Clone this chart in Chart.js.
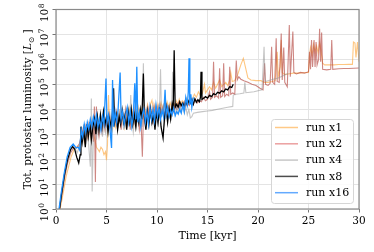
<!DOCTYPE html>
<html>
<head>
<meta charset="utf-8">
<script src="https://cdn.jsdelivr.net/npm/chart.js@4.4.1/dist/chart.umd.min.js"></script>
<style>
  html, body { margin: 0; padding: 0; background: #fff; }
  #grafico { display: block; }
</style>
</head>
<body>
<canvas id="grafico" width="374" height="252"></canvas>
<script>
// Pares [tempo (kyr), luminosidade (L_sun)]
const run1 = [[0.4,1],[0.6,2.5],[1.0,20],[1.5,125],[1.8,250],[2.1,300],[2.35,350],[2.5,600],[2.65,1200],[2.8,500],[2.95,1500],[3.1,700],[3.25,2000],[3.4,800],[3.55,2500],[3.7,1000],[3.85,600],[4.0,300],[4.15,250],[4.3,200],[4.45,300],[4.6,250],[4.75,150],[4.9,200],[5.0,90],[5.1,400],[5.2,3.7e4],[5.3,2000],[5.45,4000],[5.6,1500],[5.75,5000],[5.9,2000],[6.05,6000],[6.2,2500],[6.35,8000],[6.5,3000],[6.65,6000],[6.8,2000],[6.95,8000],[7.1,3000],[7.25,1e4],[7.4,3000],[7.55,8000],[7.7,2500],[7.85,1e4],[8.0,4000],[8.15,1.2e4],[8.3,5000],[8.45,1e4],[8.6,3500],[8.75,1.2e4],[8.9,5000],[9.05,1.5e4],[9.2,6000],[9.35,1.6e4],[9.5,2.3e4],[9.65,8000],[9.8,1.5e4],[9.95,7000],[10.1,1.6e4],[10.25,9000],[10.4,1.8e4],[10.55,1e4],[10.7,1.6e4],[10.85,9000],[11.0,2e4],[11.15,1.2e4],[11.3,1.8e4],[11.45,1.1e4],[11.6,2e4],[11.75,1.4e4],[11.9,2.2e4],[12.05,1.5e4],[12.2,2.5e4],[12.35,1.6e4],[12.5,2.2e4],[12.7,1.8e4],[12.9,2.8e4],[13.1,2e4],[13.3,3e4],[13.5,2.5e4],[13.7,4e4],[13.9,3e4],[14.1,5e4],[14.3,3.5e4],[14.5,4.5e4],[14.7,1e5],[14.8,4.5e4],[15.0,6e4],[15.2,8e4],[15.4,6e4],[15.6,1.2e5],[15.8,7e4],[16.0,1e5],[16.2,1.5e5],[16.4,8e4],[16.6,1e5],[16.8,1.2e5],[17.0,9e4],[17.2,1.5e5],[17.3,3e5],[17.45,1.3e5],[17.7,1.4e5],[18.0,2.5e5],[18.3,6e5],[18.55,1.1e6],[18.75,5e5],[19.0,1.8e5],[19.3,1.5e5],[19.8,1.4e5],[20.3,1.4e5],[20.6,1.2e5],[21.0,1.2e5],[21.4,1.3e5],[21.7,1.4e5],[21.9,2e6],[22.0,2e5],[22.2,5e5],[22.3,6e6],[22.4,3e5],[22.6,2.5e5],[23.0,2.6e5],[23.5,2.8e5],[24.0,2.8e5],[24.5,2.9e5],[25.0,3e5],[25.1,1.5e6],[25.2,3e6],[25.35,1.5e6],[25.5,4e6],[25.65,2e6],[25.8,3.5e6],[25.95,1.8e6],[26.1,4.5e6],[26.25,2e6],[26.4,7e5],[26.6,6e5],[27.0,6e5],[27.5,6e5],[28.0,6.2e5],[28.5,6.2e5],[29.0,6.3e5],[29.35,6.3e5],[29.45,5e6],[29.6,4.5e6],[29.7,1.2e6],[29.85,5e6],[30.0,8e5]];

const run2 = [[0.35,1],[0.55,3],[0.85,18],[1.15,70],[1.45,180],[1.75,280],[2.05,300],[2.3,400],[2.5,800],[2.65,1500],[2.8,600],[2.95,2000],[3.1,800],[3.25,2500],[3.4,1000],[3.55,3000],[3.7,500],[3.8,1.3e4],[3.9,12],[4.0,1.3e4],[4.1,2000],[4.25,800],[4.4,3000],[4.55,1200],[4.7,4000],[4.85,1500],[5.0,5000],[5.15,2000],[5.3,6000],[5.45,1500],[5.6,4000],[5.74,1.3e4],[5.85,3000],[6.0,8000],[6.15,2500],[6.3,6000],[6.45,1500],[6.6,8000],[6.75,3000],[6.9,1e4],[7.05,2500],[7.2,6000],[7.35,1500],[7.5,8000],[7.65,3000],[7.8,1e4],[7.95,2500],[8.1,6000],[8.25,1500],[8.4,5000],[8.55,125],[8.65,5000],[8.8,1e4],[8.95,3000],[9.1,1.2e4],[9.25,4000],[9.4,1e4],[9.55,2500],[9.7,1.3e4],[9.85,4000],[10.0,1.2e4],[10.15,5000],[10.3,1.5e4],[10.45,6000],[10.6,1.3e4],[10.75,5000],[10.9,1.5e4],[11.05,7000],[11.2,1.3e4],[11.35,6000],[11.5,1.5e4],[11.65,8000],[11.8,1.6e4],[11.95,1e4],[12.1,1.8e4],[12.25,1.1e4],[12.4,1.6e4],[12.55,1.2e4],[12.7,2e4],[12.85,1.3e4],[13.0,1.8e4],[13.2,1.4e4],[13.4,2.2e4],[13.6,1.6e4],[13.8,2.5e4],[14.0,1.8e4],[14.2,2.2e4],[14.4,2e4],[14.6,3e4],[14.8,2.2e4],[15.0,2.5e4],[15.2,5e4],[15.3,2.5e4],[15.5,3e4],[15.6,8e5],[15.7,3e4],[15.9,3.5e4],[16.1,2.8e4],[16.2,4.4e5],[16.3,3e4],[16.5,3.5e4],[16.6,7e5],[16.7,3.2e4],[16.9,4e4],[17.1,3.5e4],[17.2,5e5],[17.3,4e4],[17.5,4.5e4],[17.7,4e4],[17.85,9e5],[17.95,1.5e5],[18.1,2e5],[18.3,1.6e5],[18.6,1.4e5],[19.0,1.2e5],[19.4,1e5],[19.8,9e4],[20.2,7e4],[20.5,6e4],[20.65,7e5],[20.75,1e5],[21.0,9e4],[21.2,1.1e5],[21.35,3.2e6],[21.45,1.2e5],[21.65,1e5],[21.8,7e6],[21.9,1.3e5],[22.1,1.2e5],[22.3,1.1e7],[22.4,1.5e5],[22.55,3e6],[22.65,1.2e5],[22.9,8e4],[23.1,2.4e7],[23.2,2e5],[23.45,1.3e7],[23.55,3e5],[23.8,2.6e5],[24.2,3e5],[24.6,2.8e5],[25.0,3.2e5],[25.1,2e6],[25.2,4e5],[25.3,6e6],[25.4,5e5],[25.55,6e6],[25.65,5e5],[25.75,5e6],[25.85,6e5],[26.0,1e6],[26.1,1.7e7],[26.2,8e5],[26.3,1.2e7],[26.4,4e5],[26.8,3.8e5],[27.2,4e5],[27.3,6e6],[27.4,4e5],[28.0,4.2e5],[28.5,4.3e5],[29.0,4.3e5],[29.5,4.4e5],[30.0,4.5e5]];

const run4 = [[0.35,1],[0.55,3.5],[0.85,22],[1.15,90],[1.45,220],[1.7,300],[1.9,250],[2.1,180],[2.3,300],[2.5,1200],[2.65,500],[2.8,2000],[2.95,400],[3.1,1500],[3.25,300],[3.4,50],[3.5,2.7e4],[3.58,5],[3.7,800],[3.85,3000],[4.0,600],[4.15,2500],[4.3,1000],[4.45,4000],[4.6,800],[4.75,3000],[4.9,1200],[5.05,5000],[5.2,1500],[5.35,6000],[5.5,2000],[5.65,8000],[5.8,2500],[5.95,6000],[6.1,1500],[6.25,1e4],[6.4,3000],[6.55,6000],[6.7,1500],[6.85,8000],[7.0,2500],[7.15,1e4],[7.3,3000],[7.4,3.7e4],[7.5,4000],[7.65,1200],[7.8,6000],[7.95,2000],[8.1,1e4],[8.25,3000],[8.4,8000],[8.55,2000],[8.65,7e5],[8.75,6000],[8.9,1500],[9.05,1e4],[9.2,3000],[9.35,8000],[9.5,2500],[9.65,1.2e4],[9.8,3000],[9.95,8000],[10.1,2000],[10.25,1e4],[10.35,4e5],[10.45,5000],[10.6,1.2e4],[10.75,3000],[10.9,1e4],[11.05,4000],[11.2,1.4e4],[11.35,5000],[11.45,1.5e4],[11.55,3.2e5],[11.65,1e4],[11.8,6000],[11.95,1.4e4],[12.1,7000],[12.25,1.6e4],[12.4,8000],[12.55,1.4e4],[12.7,7000],[12.85,1.2e4],[13.0,6000],[13.15,1e4],[13.3,4500],[13.45,5000],[13.6,7000],[14.0,7500],[14.5,8000],[15.0,8500],[15.5,9000],[16.0,1e4],[16.5,1.1e4],[17.0,1.2e4],[17.5,1.3e4],[17.55,3.7e4],[17.8,4e4],[18.2,4.2e4],[18.6,4.5e4],[18.7,1.2e5],[18.8,4.6e4],[19.2,4.8e4],[19.6,5e4],[20.0,5.5e4],[20.4,6e4],[20.6,3.2e6],[20.7,1.3e5],[21.0,1.4e5],[21.5,1.6e5],[22.0,1.8e5],[22.5,2.2e5],[23.0,2.8e5]];

const run8 = [[0.35,1],[0.55,4],[0.85,25],[1.15,100],[1.45,250],[1.65,320],[1.85,250],[2.05,120],[2.25,70],[2.4,150],[2.47,2000],[2.6,500],[2.75,1500],[2.9,300],[3.05,2500],[3.2,800],[3.35,3000],[3.5,600],[3.65,2000],[3.8,4000],[3.95,1000],[4.1,5000],[4.25,1500],[4.4,6000],[4.55,2000],[4.7,8000],[4.85,2500],[5.0,5000],[5.15,1200],[5.3,4000],[5.45,2000],[5.6,8000],[5.7,7e4],[5.8,3000],[5.95,6000],[6.1,1500],[6.25,5000],[6.4,2500],[6.55,9000],[6.7,3000],[6.85,6000],[7.0,1500],[7.15,8000],[7.3,3000],[7.45,1e4],[7.6,2500],[7.75,6000],[7.9,2000],[8.05,8000],[8.2,3000],[8.35,1e4],[8.5,4000],[8.65,2.7e5],[8.75,5000],[8.9,1500],[9.05,8000],[9.2,2500],[9.35,1e4],[9.5,3000],[9.65,6000],[9.8,1500],[9.95,8000],[10.1,3000],[10.25,1.2e4],[10.4,2000],[10.6,700],[10.75,5000],[10.9,1.2e4],[11.05,3000],[11.2,1e4],[11.35,4000],[11.5,1.5e4],[11.6,8000],[11.7,2.3e6],[11.8,1.2e4],[11.95,1.6e4],[12.1,1.2e4],[12.25,2e4],[12.4,1.4e4],[12.55,1.8e4],[12.7,1.3e4],[12.85,2e4],[13.0,1.5e4],[13.15,2.2e4],[13.3,1.8e4],[13.45,2.5e4],[13.6,1.6e4],[13.75,2.6e4],[13.9,1.9e4],[14.05,2.4e4],[14.2,2e4],[14.3,3e4],[14.36,3.2e5],[14.45,2.5e4],[14.6,2.7e4],[14.8,3.2e4],[15.0,2.8e4],[15.2,3.6e4],[15.4,3.2e4],[15.6,4.2e4],[15.8,3.8e4],[16.0,4.8e4],[16.2,4.4e4],[16.4,5.5e4],[16.6,5e4],[16.8,6.5e4],[17.0,6e4],[17.2,8e4],[17.4,7.5e4],[17.55,1e5]];

const run16 = [[0.3,1],[0.5,4],[0.8,25],[1.1,120],[1.4,300],[1.7,400],[2.0,280],[2.2,300],[2.35,230],[2.5,1500],[2.65,800],[2.8,2500],[2.95,1200],[3.1,3000],[3.25,1600],[3.4,4000],[3.55,2000],[3.7,5000],[3.85,2500],[4.0,6000],[4.15,2000],[4.3,4000],[4.45,1500],[4.6,5000],[4.75,2500],[4.95,1.7e5],[5.05,3000],[5.2,6000],[5.35,1500],[5.5,280],[5.6,1.5e5],[5.7,2000],[5.85,8000],[6.0,3000],[6.15,1e4],[6.35,3e5],[6.45,4000],[6.6,8000],[6.75,2500],[6.9,6000],[7.05,1.2e4],[7.2,3000],[7.35,8000],[7.5,2000],[7.65,5000],[7.8,1.1e5],[7.9,4000],[8.0,5e5],[8.1,3000],[8.25,7000],[8.4,2000],[8.55,6000],[8.7,1e4],[8.85,3000],[9.0,8000],[9.15,2500],[9.3,1.2e4],[9.45,4000],[9.6,1e4],[9.75,3500],[9.9,1.5e4],[10.05,5000],[10.2,1.2e4],[10.35,4000],[10.5,9000],[10.65,5000],[10.8,6e4],[10.9,6000],[11.05,1.2e4],[11.2,5000],[11.35,9000],[11.5,6000],[11.65,1.1e4],[11.8,5500],[11.95,8000],[12.1,6500],[12.25,1e4],[12.4,7000],[12.55,1.5e4],[12.7,8000],[12.85,3e4],[13.0,1.5e4],[13.1,5e4],[13.17,1.1e6],[13.25,1.5e4],[13.35,4e4],[13.45,1.2e4],[13.6,3e4]];

const nomes = ['run x1', 'run x2', 'run x4', 'run x8', 'run x16'];
const xTicks = [0, 5, 10, 15, 20, 25, 30];
const yExpoentes = [0, 1, 2, 3, 4, 5, 6, 7, 8];

const cores = ['rgba(253,160,45,0.6)', 'rgba(180,70,65,0.65)', 'rgba(150,150,150,0.55)', '#000000', '#1e90ff'];
const coresLegenda = ['#ffc987', '#eba0a0', '#c8c8c8', '#4d4d4d', '#63aaff'];
const larguras = [1.1, 1.1, 1.1, 1.3, 1.3];
const fonte = '"DejaVu Serif", serif';

const series = [run1, run2, run4, run8, run16];

const paraPontos = serie => serie.map(p => ({ x: p[0], y: p[1] }));

// rótulos do eixo y girados, no estilo 10^n
const rotulosY = {
    id: 'rotulosY',
    afterDraw(chart) {
        const { ctx, scales: { y } } = chart;
        ctx.save();
        ctx.fillStyle = '#000';
        ctx.textBaseline = 'alphabetic';
        yExpoentes.forEach(e => {
            const py = y.getPixelForValue(Math.pow(10, e)) + 3.5;
            ctx.save();
            ctx.translate(48, py);
            ctx.rotate(-Math.PI / 2);
            ctx.font = '10.5px ' + fonte;
            const wBase = ctx.measureText('10').width;
            ctx.font = '7.5px ' + fonte;
            const wExp = ctx.measureText(String(e)).width;
            const x0 = -(wBase + wExp) / 2;
            ctx.font = '10.5px ' + fonte;
            ctx.fillText('10', x0, 0);
            ctx.font = '7.5px ' + fonte;
            ctx.fillText(String(e), x0 + wBase + 0.5, -4);
            ctx.restore();
        });

        // título do eixo y
        const partes = [
            { t: 'Tot. protostar luminosity [', f: '10.5px ' + fonte, dy: 0 },
            { t: 'L', f: 'italic 10.5px ' + fonte, dy: 0 },
            { t: '\u2299', f: '7.5px ' + fonte, dy: 2.5 },
            { t: ' ]', f: '10.5px ' + fonte, dy: 0 }
        ];
        let total = 0;
        partes.forEach(p => { ctx.font = p.f; p.w = ctx.measureText(p.t).width; total += p.w; });
        const cy = (chart.chartArea.top + chart.chartArea.bottom) / 2;
        ctx.save();
        ctx.translate(31, cy);
        ctx.rotate(-Math.PI / 2);
        let cx = -total / 2;
        partes.forEach(p => { ctx.font = p.f; ctx.fillText(p.t, cx, p.dy); cx += p.w; });
        ctx.restore();
        ctx.restore();
    }
};

// moldura do gráfico
const moldura = {
    id: 'moldura',
    afterDatasetsDraw(chart) {
        const { ctx, chartArea: a } = chart;
        ctx.save();
        ctx.strokeStyle = '#8a8a8a';
        ctx.lineWidth = 1.2;
        ctx.strokeRect(a.left, a.top, a.right - a.left, a.bottom - a.top);
        ctx.restore();
    }
};

// legenda dentro da área do gráfico
const legenda = {
    id: 'legenda',
    afterDraw(chart) {
        const ctx = chart.ctx;
        ctx.save();
        ctx.beginPath();
        ctx.roundRect(271.5, 119.5, 82, 84, 3);
        ctx.fillStyle = 'rgba(255,255,255,0.85)';
        ctx.fill();
        ctx.strokeStyle = '#d6d6d6';
        ctx.lineWidth = 1;
        ctx.stroke();
        ctx.font = '11px ' + fonte;
        ctx.textBaseline = 'middle';
        nomes.forEach((n, i) => {
            const y = 127.5 + i * 16.3;
            ctx.strokeStyle = coresLegenda[i];
            ctx.lineWidth = 1.5;
            ctx.beginPath();
            ctx.moveTo(275, y);
            ctx.lineTo(298, y);
            ctx.stroke();
            ctx.fillStyle = '#000';
            ctx.fillText(n, 306, y + 0.5);
        });
        ctx.restore();
    }
};

new Chart(document.getElementById('grafico'), {
    type: 'line',
    data: {
        datasets: series.map((s, i) => ({
            label: nomes[i],
            data: paraPontos(s),
            borderColor: cores[i],
            borderWidth: larguras[i],
            pointRadius: 0,
            tension: 0,
            fill: false,
            order: 5 - i
        }))
    },
    options: {
        responsive: false,
        animation: false,
        devicePixelRatio: 1,
        layout: { padding: { top: 9.5, right: 15, left: 0, bottom: 0 } },
        plugins: { legend: { display: false }, tooltip: { enabled: false } },
        scales: {
            x: {
                type: 'linear',
                min: 0,
                max: 30,
                afterBuildTicks: s => { s.ticks = xTicks.map(v => ({ value: v })); },
                ticks: { font: { family: fonte, size: 10.5 }, color: '#000', padding: 2, maxRotation: 0 },
                grid: { color: '#e4e4e4', tickColor: '#777', tickLength: 3.5, lineWidth: 1 },
                border: { display: false },
                title: { display: true, text: 'Time [kyr]', color: '#000', font: { family: fonte, size: 11 }, padding: { top: 0, bottom: 9 } },
                afterFit: s => { s.height = 43; }
            },
            y: {
                type: 'logarithmic',
                min: 1,
                max: 1e8,
                afterBuildTicks: s => { s.ticks = yExpoentes.map(e => ({ value: Math.pow(10, e) })); },
                ticks: { display: false },
                grid: { color: '#e4e4e4', tickColor: '#777', tickLength: 3.5, lineWidth: 1 },
                border: { display: false },
                afterFit: s => { s.width = 56; }
            }
        }
    },
    plugins: [moldura, rotulosY, legenda]
});
</script>
</body>
</html>
